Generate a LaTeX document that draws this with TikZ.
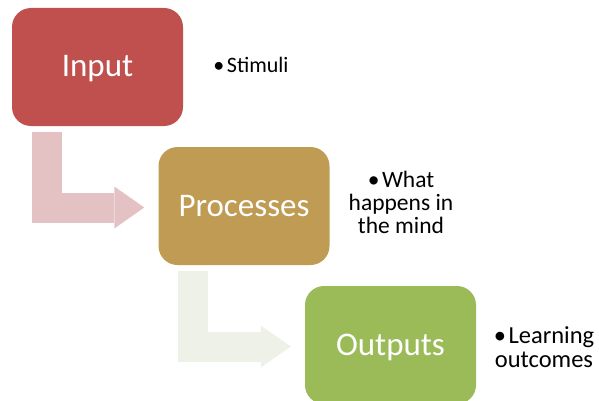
\documentclass[tikz,border=0pt]{standalone}
\usepackage{fontspec}
\setmainfont{Carlito}
\usetikzlibrary{arrows.meta,calc}
\definecolor{inputred}{HTML}{C0504D}
\definecolor{procgold}{HTML}{BF9B53}
\definecolor{outgreen}{HTML}{9BBB59}
\definecolor{bendpink}{HTML}{E4C2C3}
\definecolor{bendsage}{HTML}{EEF1E7}
% bullet followed by a small gap
\newcommand{\notebullet}{•\kern2.5pt}
\begin{document}
\begin{tikzpicture}[x=1pt,y=-1pt,
  stage/.style={rounded corners=19pt, minimum width=171pt, minimum height=118pt,
    inner sep=0pt, text=white, text height=20pt, text depth=0pt,
    font=\fontsize{33}{40}\selectfont},
  note/.style={align=center, inner sep=0pt},
  bendarrow/.style={line width=30pt, line cap=butt, line join=miter,
    -{Triangle[length=30pt,width=42pt,line width=0pt]}}
]
\useasboundingbox (0,0) rectangle (599,401);

% process stages
\node[stage, fill=inputred] (in) at (97.5,67) {Input};
\node[stage, fill=procgold] (proc) at (244,206) {Processes};
\node[stage, fill=outgreen] (out) at (390.5,345) {Outputs};

% bent block arrows between the stages
\draw[bendarrow, color=bendpink] ($(in.south west)+(35,6)$) |- ($(proc.west)+(-14,1.5)$);
\draw[bendarrow, color=bendsage] ($(proc.south west)+(35,6)$) |- ($(out.west)+(-14,1.5)$);

% notes beside each stage
\node[note, anchor=base, font=\fontsize{22}{23}\selectfont] (n1) at (251,73) {\notebullet Stimuli};
\node[note, font=\fontsize{23.5}{23}\selectfont] (n2) at (401,202) {\notebullet What\\happens in\\the mind};
\node[note, font=\fontsize{24.5}{24}\selectfont] (n3) at (544,347.5) {\notebullet Learning\\outcomes};
\end{tikzpicture}
\end{document}
